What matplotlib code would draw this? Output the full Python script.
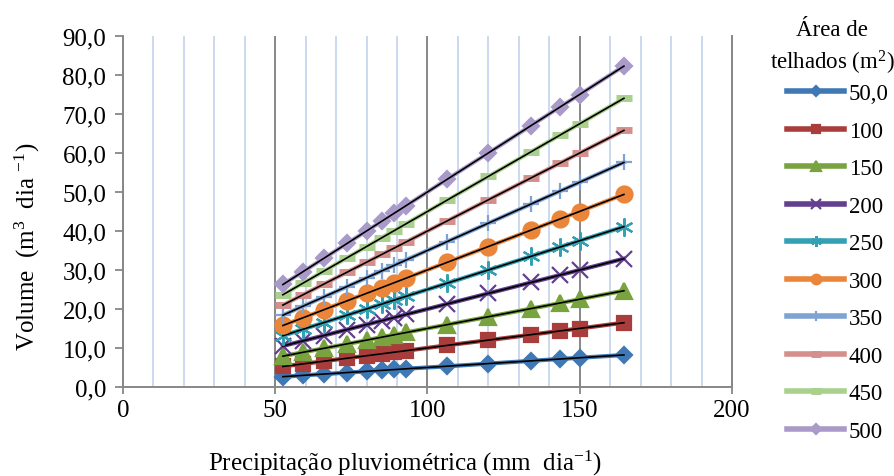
import numpy as np
import matplotlib
matplotlib.use("Agg")
import matplotlib.pyplot as plt
from matplotlib.ticker import MultipleLocator

# Precipitação pluviométrica (mm dia-1)
precip = [52.5, 59, 66, 73.5, 80, 85, 89, 93, 106.5, 120, 134, 143.5, 150, 164.5]

# Volume (m3 dia-1) por área de telhado
areas = ["50,0", "100", "150", "200", "250", "300", "350", "400", "450", "500"]
v50 = [2.6, 3.0, 3.3, 3.7, 4.0, 4.3, 4.5, 4.7, 5.3, 6.0, 6.7, 7.2, 7.5, 8.2]
v100 = [5.3, 5.9, 6.6, 7.4, 8.0, 8.5, 8.9, 9.3, 10.7, 12.0, 13.4, 14.4, 15.0, 16.5]
v150 = [7.9, 8.9, 9.9, 11.0, 12.0, 12.8, 13.4, 14.0, 16.0, 18.0, 20.1, 21.5, 22.5, 24.7]
v200 = [10.5, 11.8, 13.2, 14.7, 16.0, 17.0, 17.8, 18.6, 21.3, 24.0, 26.8, 28.7, 30.0, 32.9]
v250 = [13.1, 14.8, 16.5, 18.4, 20.0, 21.3, 22.3, 23.3, 26.6, 30.0, 33.5, 35.9, 37.5, 41.1]
v300 = [15.8, 17.7, 19.8, 22.1, 24.0, 25.5, 26.7, 27.9, 32.0, 36.0, 40.2, 43.1, 45.0, 49.4]
v350 = [18.4, 20.7, 23.1, 25.7, 28.0, 29.8, 31.2, 32.6, 37.3, 42.0, 46.9, 50.2, 52.5, 57.6]
v400 = [21.0, 23.6, 26.4, 29.4, 32.0, 34.0, 35.6, 37.2, 42.6, 48.0, 53.6, 57.4, 60.0, 65.8]
v450 = [23.6, 26.6, 29.7, 33.1, 36.0, 38.3, 40.1, 41.9, 47.9, 54.0, 60.3, 64.6, 67.5, 74.0]
v500 = [26.3, 29.5, 33.0, 36.8, 40.0, 42.5, 44.5, 46.5, 53.3, 60.0, 67.0, 71.8, 75.0, 82.3]
volumes = [v50, v100, v150, v200, v250, v300, v350, v400, v450, v500]

yticks = [0, 10, 20, 30, 40, 50, 60, 70, 80, 90]
ytick_labels = ["0,0", "10,0", "20,0", "30,0", "40,0", "50,0", "60,0", "70,0", "80,0", "90,0"]
xticks = [0, 50, 100, 150, 200]

# estilo de cada série (cor, marcador, tamanho)
estilos = [
    ("#3f79b5", "D", 8.5),
    ("#a83d3b", "s", 10.5),
    ("#79a33f", "^", 12),
    ("#63408f", "x", 11),
    ("#33a1b3", (6, 2, 0), 13),
    ("#ea8539", "o", 11.5),
    ("#7fa2d4", "+", 12),
    ("#d48f8d", "_", 12),
    ("#a9d08d", "_", 12),
    ("#a99ac9", "D", 8.5),
]

FS = 18      # eixos
FS_LEG = 16.5  # legenda
plt.rcParams["font.family"] = ["Liberation Serif", "DejaVu Serif"]
plt.rcParams["mathtext.fontset"] = "custom"
plt.rcParams["mathtext.rm"] = "Liberation Serif"
plt.rcParams["mathtext.it"] = "Liberation Serif:italic"
plt.rcParams["font.size"] = FS

fig = plt.figure(figsize=(8.94, 4.77), dpi=100)
ax = fig.add_axes([123 / 894, 1 - 388 / 477, 609 / 894, 351 / 477])

grid_gray = "#878787"
handles = []
for i, (vals, (cor, mk, ms)) in enumerate(zip(volumes, estilos)):
    mew = 1.6
    if mk == "_":
        mew = 5
    h, = ax.plot(precip, vals, color=cor, lw=3, marker=mk, ms=ms,
                 mec=cor, mfc=cor, mew=mew, zorder=3 + 2 * i, label=areas[i])
    handles.append(h)
    # linha de tendência linear
    a, b = np.polyfit(precip, vals, 1)
    xs = np.array([precip[0], precip[-1]])
    ax.plot(xs, a * xs + b, color="black", lw=1.2, zorder=4 + 2 * i)

ax.set_xlim(0, 200)
ax.set_ylim(0, 90)
ax.set_xticks(xticks)
ax.set_yticks(yticks)
ax.set_yticklabels(ytick_labels)
ax.xaxis.set_minor_locator(MultipleLocator(10))
ax.tick_params(axis="x", which="minor", length=0)
ax.tick_params(axis="both", which="major", length=6, width=1.3, color=grid_gray,
               labelsize=FS, pad=6)
ax.tick_params(axis="x", which="major", direction="inout", length=10, pad=4)

ax.grid(axis="x", which="minor", color="#cbd9ef", lw=1.4, zorder=0)
ax.grid(axis="x", which="major", color=grid_gray, lw=1.4, zorder=1)
ax.set_axisbelow(True)

for s in ["left", "bottom", "right"]:
    ax.spines[s].set_color(grid_gray)
    ax.spines[s].set_linewidth(1.4)
ax.spines["top"].set_visible(False)

ax.set_xlabel("Precipitação pluviométrica (mm  dia$^{-1}$)", fontsize=FS)
ax.xaxis.set_label_coords((405 - 123) / 609, -(449 - 388) / 351)
ax.set_ylabel("Volume  (m$^3$  dia $^{-1}$)", fontsize=FS)
ax.yaxis.set_label_coords(-(123 - 42) / 609, (388 - 247) / 351)

# título da legenda como texto separado (centralizado sobre as entradas)
fig.text(832 / 894, 1 - 30 / 477, "Área de", ha="center", va="center", fontsize=FS_LEG)
fig.text(832 / 894, 1 - 63 / 477, "telhados (m$^2$)", ha="center", va="center", fontsize=FS_LEG)

leg = fig.legend(handles=handles, loc="upper left", bbox_to_anchor=(787 / 894, 1 - 84 / 477),
                 frameon=False, fontsize=FS_LEG, markerscale=0.6, handlelength=2.5,
                 handletextpad=0.2, labelspacing=0.72, borderaxespad=0, borderpad=0)
for ln in leg.get_lines():
    ln.set_linewidth(4)

fig.savefig("out.png", dpi=100)
